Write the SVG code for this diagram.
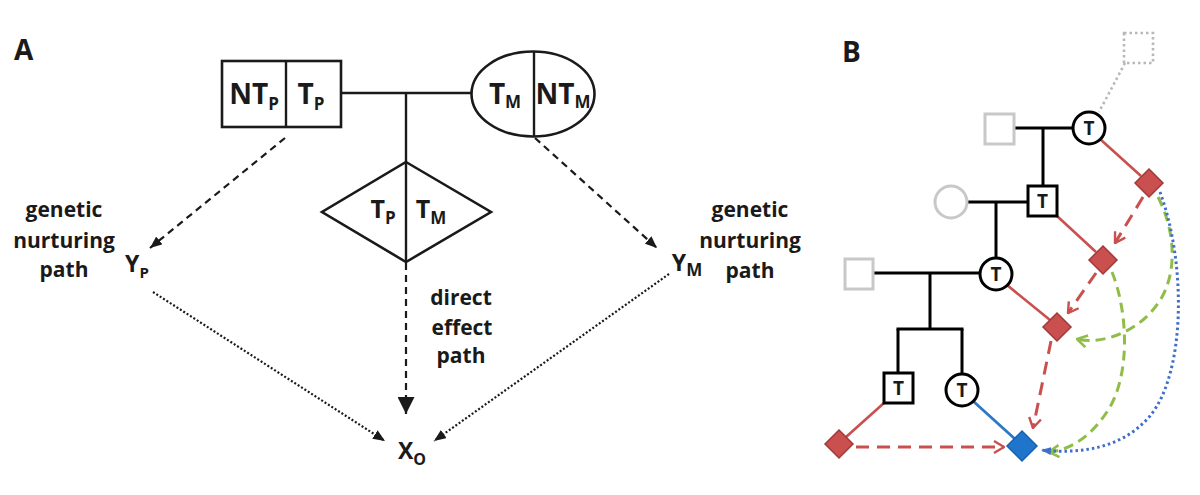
<svg xmlns="http://www.w3.org/2000/svg" width="1200" height="495" viewBox="0 0 1200 495">
<style>
  text { font-family: "Open Sans", "Liberation Sans", sans-serif; font-weight: bold; fill: #1a1a1a; }
  .big { font-size: 28px; }
  .lbl { font-size: 21px; }
  .var { font-size: 23px; }
  .sub { font-size: 17px; }
  .shape { fill: #fff; stroke: #1a1a1a; stroke-width: 2.6; }
  .ln { fill: none; stroke: #1a1a1a; stroke-width: 2.4; }
  .dash { fill: none; stroke: #1a1a1a; stroke-width: 2.2; stroke-dasharray: 7 5; }
  .dot { fill: none; stroke: #1a1a1a; stroke-width: 2.2; stroke-dasharray: 2 2; }
  .ped { fill: none; stroke: #000; stroke-width: 3; }
  .pshape { fill: #fff; stroke: #000; stroke-width: 3; }
  .gray { fill: #fff; stroke: #c8c8c8; stroke-width: 3; }
  .grayd { fill: none; stroke: #b8b8b8; stroke-width: 2.6; stroke-dasharray: 2.5 3; }
  .t { font-size: 19px; }
  .red { stroke: #c9504e; stroke-width: 2.6; fill: none; }
  .redd { stroke: #c9504e; stroke-width: 3; fill: none; stroke-dasharray: 13 8; }
  .grn { stroke: #8fbd48; stroke-width: 3; fill: none; stroke-dasharray: 10 6; }
  .bld { stroke: #3f6fc6; stroke-width: 3; fill: none; stroke-dasharray: 2.5 3; }
  .rdia { fill: #c9504e; stroke: #a23a3a; stroke-width: 1.5; }
  .bdia { fill: #1f75cc; stroke: #1a62ad; stroke-width: 1.5; }
</style>
<defs>
  <marker id="ah" viewBox="0 0 12 10" refX="12" refY="5" markerWidth="12" markerHeight="10" markerUnits="userSpaceOnUse" orient="auto">
    <path d="M0,0 L12,5 L0,10 Z" fill="#1a1a1a"/>
  </marker>
  <marker id="ahbig" viewBox="0 0 17 17" refX="17" refY="8.5" markerWidth="17" markerHeight="17" markerUnits="userSpaceOnUse" orient="auto">
    <path d="M0,0 L17,8.5 L0,17 Z" fill="#1a1a1a"/>
  </marker>
  <marker id="chr" viewBox="0 0 12 14" refX="11" refY="7" markerWidth="12" markerHeight="14" markerUnits="userSpaceOnUse" orient="auto">
    <path d="M1,1 L11,7 L1,13" fill="none" stroke="#c9504e" stroke-width="2.4"/>
  </marker>
  <marker id="chg" viewBox="0 0 12 14" refX="11" refY="7" markerWidth="12" markerHeight="14" markerUnits="userSpaceOnUse" orient="auto">
    <path d="M1,1 L11,7 L1,13" fill="none" stroke="#8fbd48" stroke-width="2.6"/>
  </marker>
  <marker id="ahb" viewBox="0 0 10 8" refX="10" refY="4" markerWidth="10" markerHeight="8" markerUnits="userSpaceOnUse" orient="auto">
    <path d="M0,0 L10,4 L0,8 Z" fill="#3f6fc6"/>
  </marker>
</defs>

<!-- Panel A -->
<text id="labelA" x="14" y="60" style="font-size:28px">A</text>

<g id="connectors-A">
  <line class="ln" x1="341" y1="93" x2="472" y2="93"/>
  <line class="ln" x1="406" y1="93" x2="406" y2="163"/>
  <line class="dash" x1="285" y1="138" x2="150" y2="248" marker-end="url(#ah)"/>
  <line class="dash" x1="535" y1="138" x2="657" y2="248" marker-end="url(#ah)"/>
  <line class="dash" x1="406" y1="263" x2="406" y2="414" marker-end="url(#ahbig)"/>
  <line class="dot" x1="153" y1="292" x2="385" y2="441" marker-end="url(#ah)"/>
  <line class="dot" x1="669" y1="274" x2="434" y2="441" marker-end="url(#ah)"/>
</g>

<g id="father">
  <rect class="shape" x="222" y="61" width="119" height="66"/>
  <line class="ln" x1="286" y1="61" x2="286" y2="127"/>
  <text class="big" x="254" y="104" text-anchor="middle">NT<tspan class="sub" dy="6">P</tspan></text>
  <text class="big" x="311" y="104" text-anchor="middle">T<tspan class="sub" dy="6">P</tspan></text>
</g>

<g id="mother">
  <ellipse class="shape" cx="533" cy="94" rx="61.5" ry="42.5"/>
  <line class="ln" x1="534" y1="52" x2="534" y2="136"/>
  <text class="big" x="505" y="104" text-anchor="middle">T<tspan class="sub" dy="4">M</tspan></text>
  <text class="big" x="563" y="104" text-anchor="middle">NT<tspan class="sub" dy="4">M</tspan></text>
</g>

<g id="child">
  <polygon class="shape" points="406,162 491,212 406,262 322,212"/>
  <line class="ln" x1="406" y1="162" x2="406" y2="262"/>
  <text class="big" x="383" y="218" text-anchor="middle" style="font-size:25px">T<tspan class="sub" dy="6">P</tspan></text>
  <text class="big" x="431" y="218" text-anchor="middle" style="font-size:25px">T<tspan class="sub" dy="6">M</tspan></text>
</g>

<g id="YP">
  <text class="var" x="137" y="272" text-anchor="middle">Y<tspan class="sub" dy="6" style="font-size:15px">P</tspan></text>
</g>
<g id="YM">
  <text class="var" x="687" y="271" text-anchor="middle">Y<tspan class="sub" dy="5" style="font-size:17px">M</tspan></text>
</g>
<g id="XO">
  <text class="var" x="412" y="459" text-anchor="middle">X<tspan class="sub" dy="6" style="font-size:16px">O</tspan></text>
</g>

<g id="label-left">
  <text class="lbl" x="64" y="217" text-anchor="middle">genetic</text>
  <text class="lbl" x="64" y="248" text-anchor="middle">nurturing</text>
  <text class="lbl" x="64" y="277" text-anchor="middle">path</text>
</g>
<g id="label-right">
  <text class="lbl" x="750" y="217" text-anchor="middle">genetic</text>
  <text class="lbl" x="750" y="248" text-anchor="middle">nurturing</text>
  <text class="lbl" x="750" y="278" text-anchor="middle">path</text>
</g>
<g id="label-direct">
  <text class="lbl" x="461" y="305" text-anchor="middle">direct</text>
  <text class="lbl" x="462" y="335" text-anchor="middle">effect</text>
  <text class="lbl" x="461" y="363" text-anchor="middle">path</text>
</g>

<!-- Panel B -->
<text id="labelB" x="842" y="62" style="font-size:28px">B</text>

<g id="connectors-B">
  <line class="grayd" x1="1125" y1="63" x2="1099" y2="112"/>
  <line class="ped" x1="1014" y1="128" x2="1073" y2="128"/>
  <line class="ped" x1="1043" y1="128" x2="1043" y2="186"/>
  <line class="ped" x1="967" y1="202" x2="1028" y2="202"/>
  <line class="ped" x1="996" y1="202" x2="996" y2="258"/>
  <line class="ped" x1="873" y1="273" x2="980" y2="273"/>
  <line class="ped" x1="930" y1="273" x2="930" y2="329"/>
  <line class="ped" x1="896.5" y1="329" x2="963.5" y2="329"/>
  <line class="ped" x1="898" y1="329" x2="898" y2="373"/>
  <line class="ped" x1="962" y1="329" x2="962" y2="375"/>

  <line class="red" x1="1100" y1="139" x2="1141" y2="176"/>
  <line class="red" x1="1057" y1="216" x2="1096" y2="252"/>
  <line class="red" x1="1007" y1="285" x2="1050" y2="320"/>
  <line class="red" x1="884" y1="403" x2="846" y2="437"/>
  <line x1="973" y1="401" x2="1015" y2="439" stroke="#2a78c8" stroke-width="2.8"/>

  <path class="grn" d="M1158,197 C1174,228 1178,268 1162,297 C1142,332 1102,345 1077,339" marker-end="url(#chg)"/>
  <path class="grn" d="M1112,272 C1128,312 1130,372 1110,407 C1094,434 1072,450 1049,452" marker-end="url(#chg)"/>
  <path class="bld" d="M1160,192 C1186,262 1186,372 1150,416 C1122,449 1080,454 1041,450" marker-end="url(#ahb)"/>

  <line class="redd" x1="1143" y1="197" x2="1115" y2="243" marker-end="url(#chr)"/>
  <line class="redd" x1="1096" y1="273" x2="1068" y2="313" marker-end="url(#chr)"/>
  <path class="redd" d="M1051,341 Q1042,385 1033,428" marker-end="url(#chr)"/>
  <line class="redd" x1="856" y1="447" x2="1004" y2="447" marker-end="url(#chr)"/>
</g>

<g id="gp-unknown">
  <rect x="1124" y="33" width="29" height="30" fill="none" stroke="#b8b8b8" stroke-width="2.6" stroke-dasharray="2.5 3"/>
</g>
<g id="gp-male">
  <rect class="gray" x="985" y="114" width="29" height="30"/>
</g>
<g id="gp-female-T">
  <circle class="pshape" cx="1089" cy="128" r="16"/>
  <text class="t" x="1089" y="135" text-anchor="middle">T</text>
</g>
<g id="p-female">
  <circle class="gray" cx="951" cy="202" r="16"/>
</g>
<g id="p-male-T">
  <rect class="pshape" x="1028" y="186" width="29" height="30"/>
  <text class="t" x="1042.5" y="208" text-anchor="middle">T</text>
</g>
<g id="m-male">
  <rect class="gray" x="845" y="259" width="28" height="30"/>
</g>
<g id="m-female-T">
  <circle class="pshape" cx="996" cy="274" r="16"/>
  <text class="t" x="996" y="281" text-anchor="middle">T</text>
</g>
<g id="sib-male-T">
  <rect class="pshape" x="884" y="373" width="29" height="30"/>
  <text class="t" x="898.5" y="395" text-anchor="middle">T</text>
</g>
<g id="sib-female-T">
  <circle class="pshape" cx="962" cy="390" r="16"/>
  <text class="t" x="962" y="397" text-anchor="middle">T</text>
</g>

<g id="d1"><polygon class="rdia" points="1149,169 1163,183 1149,197 1135,183"/></g>
<g id="d2"><polygon class="rdia" points="1103,246 1117,260 1103,274 1089,260"/></g>
<g id="d3"><polygon class="rdia" points="1057,313 1071,327 1057,341 1043,327"/></g>
<g id="d4"><polygon class="rdia" points="839,430 853,444 839,458 825,444"/></g>
<g id="dblue"><polygon class="bdia" points="1022,431 1037,446 1022,461 1007,446"/></g>
</svg>
